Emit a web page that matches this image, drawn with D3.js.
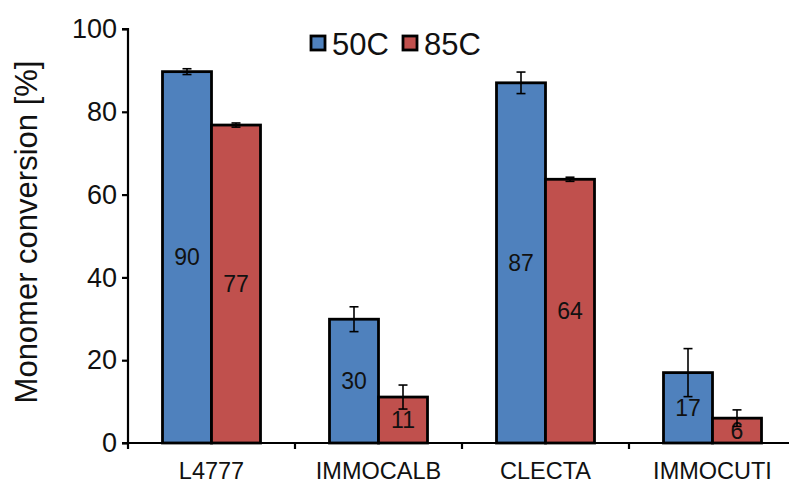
<!DOCTYPE html>
<html><head><meta charset="utf-8">
<script src="https://cdn.jsdelivr.net/npm/d3@7"></script>
<style>body{margin:0;background:#fff}svg{display:block;font-family:"Liberation Sans",Arial,sans-serif}</style>
</head><body><svg id="c" width="789" height="484"></svg>
<script>
const categories = ["L4777", "IMMOCALB", "CLECTA", "IMMOCUTI"];
const seriesNames = ["50C", "85C"];
const values50 = [89.7, 29.9, 87.0, 17.0];
const values85 = [76.8, 11.1, 63.7, 6.0];
const errors50 = [0.7, 3.0, 2.6, 5.8];
const errors85 = [0.5, 2.9, 0.5, 2.0];
const labels50 = ["90", "30", "87", "17"];
const labels85 = ["77", "11", "64", "6"];
const yTicks = [0, 20, 40, 60, 80, 100];
const colors = ["#4F81BD", "#C0504D"];

const FF = "Liberation Sans, Arial, sans-serif";
const svg = d3.select("#c");
const x0 = 128, x1 = 796, yTop = 29, yBot = 443;
const x = d3.scaleBand().domain(categories).range([x0, x1]).paddingInner(0).paddingOuter(0);
const y = d3.scaleLinear().domain([0, 100]).range([yBot, yTop]);
const barW = 49;
const sub = d3.scaleBand().domain(seriesNames).range([0, barW * 2]);

const data = [];
categories.forEach((c, i) => {
  data.push({c, s: "50C", v: values50[i], e: errors50[i], l: labels50[i], col: colors[0]});
  data.push({c, s: "85C", v: values85[i], e: errors85[i], l: labels85[i], col: colors[1]});
});
const bx = d => x(d.c) + (x.bandwidth() - barW * 2) / 2 + sub(d.s);

// bars
svg.append("g").selectAll("rect").data(data).join("rect")
  .attr("x", bx).attr("y", d => y(d.v))
  .attr("width", barW).attr("height", d => y(0) - y(d.v))
  .attr("fill", d => d.col).attr("stroke", "#000").attr("stroke-width", 2.8);

// data labels
svg.append("g").selectAll("text").data(data).join("text")
  .attr("x", d => bx(d) + barW / 2).attr("y", d => (y(d.v) + y(0)) / 2)
  .attr("text-anchor", "middle").attr("dominant-baseline", "central")
  .attr("font-size", 23).attr("fill", "#111").text(d => d.l);

// error bars
const eg = svg.append("g").attr("stroke", "#000").attr("stroke-width", 1.6);
data.forEach(d => {
  const cx = bx(d) + barW / 2;
  eg.append("line").attr("x1", cx).attr("x2", cx).attr("y1", y(d.v + d.e)).attr("y2", y(d.v - d.e));
  [d.v + d.e, d.v - d.e].forEach(v => {
    eg.append("line").attr("x1", cx - 4.5).attr("x2", cx + 4.5).attr("y1", y(v)).attr("y2", y(v));
  });
});

// y axis
const ya = svg.append("g").attr("transform", `translate(${x0},0)`)
  .call(d3.axisLeft(y).tickValues(yTicks).tickSize(6).tickPadding(5));
ya.attr("font-size", null).attr("font-family", null);
ya.select(".domain").attr("stroke", "#000").attr("stroke-width", 2.2).attr("d", `M-6,${yTop}H0V${yBot}`);
ya.selectAll(".tick line").attr("stroke", "#000").attr("stroke-width", 2.2);
ya.selectAll(".tick text").style("font-size", "27px").attr("fill", "#111").style("font-family", FF);

// x axis
const xa = svg.append("g").attr("transform", `translate(0,${yBot})`)
  .call(d3.axisBottom(x).tickSize(0).tickPadding(19));
xa.attr("font-size", null).attr("font-family", null);
xa.select(".domain").attr("stroke", "#000").attr("stroke-width", 2.2).attr("d", `M${x0 - 6},0H${x1}`);
xa.selectAll(".tick text").style("font-size", "23.5px").attr("fill", "#111").style("font-family", FF);
const bounds = categories.map(c => x(c)).concat([x1]);
svg.append("g").selectAll("line").data(bounds).join("line")
  .attr("x1", d => d).attr("x2", d => d).attr("y1", yBot).attr("y2", yBot + 6)
  .attr("stroke", "#000").attr("stroke-width", 2.2);

// y title
svg.append("text").attr("transform", `translate(37,232) rotate(-90)`)
  .attr("text-anchor", "middle").attr("font-size", 31).attr("fill", "#111")
  .text("Monomer conversion [%]");

// legend
const leg = svg.append("g");
const legX = [311, 403];
seriesNames.forEach((s, i) => {
  leg.append("rect").attr("x", legX[i]).attr("y", 36).attr("width", 14).attr("height", 14)
    .attr("fill", colors[i]).attr("stroke", "#000").attr("stroke-width", 2.8);
  leg.append("text").attr("x", legX[i] + 21).attr("y", 44).attr("dominant-baseline", "central")
    .attr("font-size", 31).attr("fill", "#111").text(s);
});
</script></body></html>
